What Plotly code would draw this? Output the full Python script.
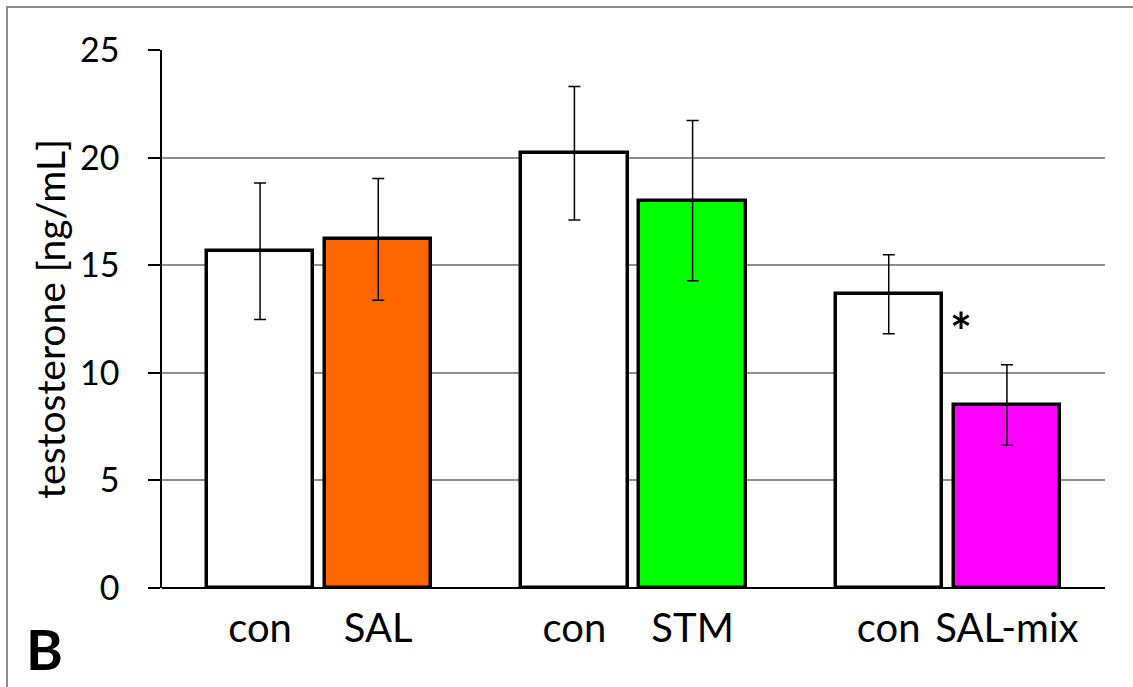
import plotly.graph_objects as go

# values (testosterone, ng/mL)
labels = ["con", "SAL", "con", "STM", "con", "SAL-mix"]
group = [0, 0, 1, 1, 2, 2]
side = [-1, 1, -1, 1, -1, 1]
values = [15.65, 16.2, 20.2, 18.0, 13.65, 8.5]
errors = [3.17, 2.83, 3.1, 3.72, 1.83, 1.87]
colors = ["white", "#ff6600", "white", "#00ff00", "white", "#ff00ff"]
yticks = [0, 5, 10, 15, 20, 25]

# position of each bar inside its cluster (Excel-like clustered layout)
offset = 0.188
bar_w = 0.338
xpos = [g + 0.5 + s * offset for g, s in zip(group, side)]

fig = go.Figure(go.Bar(
	x=xpos, y=values, width=bar_w,
	marker=dict(color=colors, line=dict(color="black", width=3.5)),
	error_y=dict(type="data", array=errors, color="black", thickness=1.5, width=6),
	showlegend=False))

# significance mark next to the third control bar
fig.add_annotation(x=xpos[4] + bar_w / 2, y=values[4] - 1.7, text="<b>*</b>",
	showarrow=False, xanchor="left", xshift=6, font=dict(size=52, color="black"))

# panel letter
fig.add_annotation(x=-0.146, y=-0.113, xref="paper", yref="paper", text="<b>B</b>",
	showarrow=False, xanchor="left", yanchor="middle", font=dict(size=56, color="black"))

# gray frame around the whole panel, running off the right and bottom edges
fig.add_shape(type="rect", xref="paper", yref="paper",
	x0=-0.1644, x1=1.04, y0=-0.21, y1=1.0799,
	line=dict(color="#8c8c8c", width=2))

fig.update_layout(
	width=1133, height=687,
	margin=dict(l=162, r=28, t=50, b=99),
	paper_bgcolor="white", plot_bgcolor="white",
	font=dict(family="Lato, Open Sans, sans-serif", color="black"),
	bargap=0)

fig.update_xaxes(range=[0, 3], tickvals=xpos, ticktext=labels, ticks="",
	showgrid=False, zeroline=False, showline=False,
	tickfont=dict(size=40), ticklabelstandoff=13)

fig.update_yaxes(range=[0, 25], tickvals=yticks, showgrid=True, gridcolor="#8c8c8c",
	gridwidth=1.5, zeroline=True, zerolinecolor="black", zerolinewidth=1.5,
	showline=True, linecolor="black", linewidth=1.5,
	ticks="outside", ticklen=12, tickcolor="black", tickwidth=1.5,
	tickfont=dict(size=34), ticklabelstandoff=22,
	title=dict(text="testosterone [ng/mL]", font=dict(size=39), standoff=2))

fig.write_html("out.html", config={"displayModeBar": False},
	post_script="document.body.style.margin='0';")
